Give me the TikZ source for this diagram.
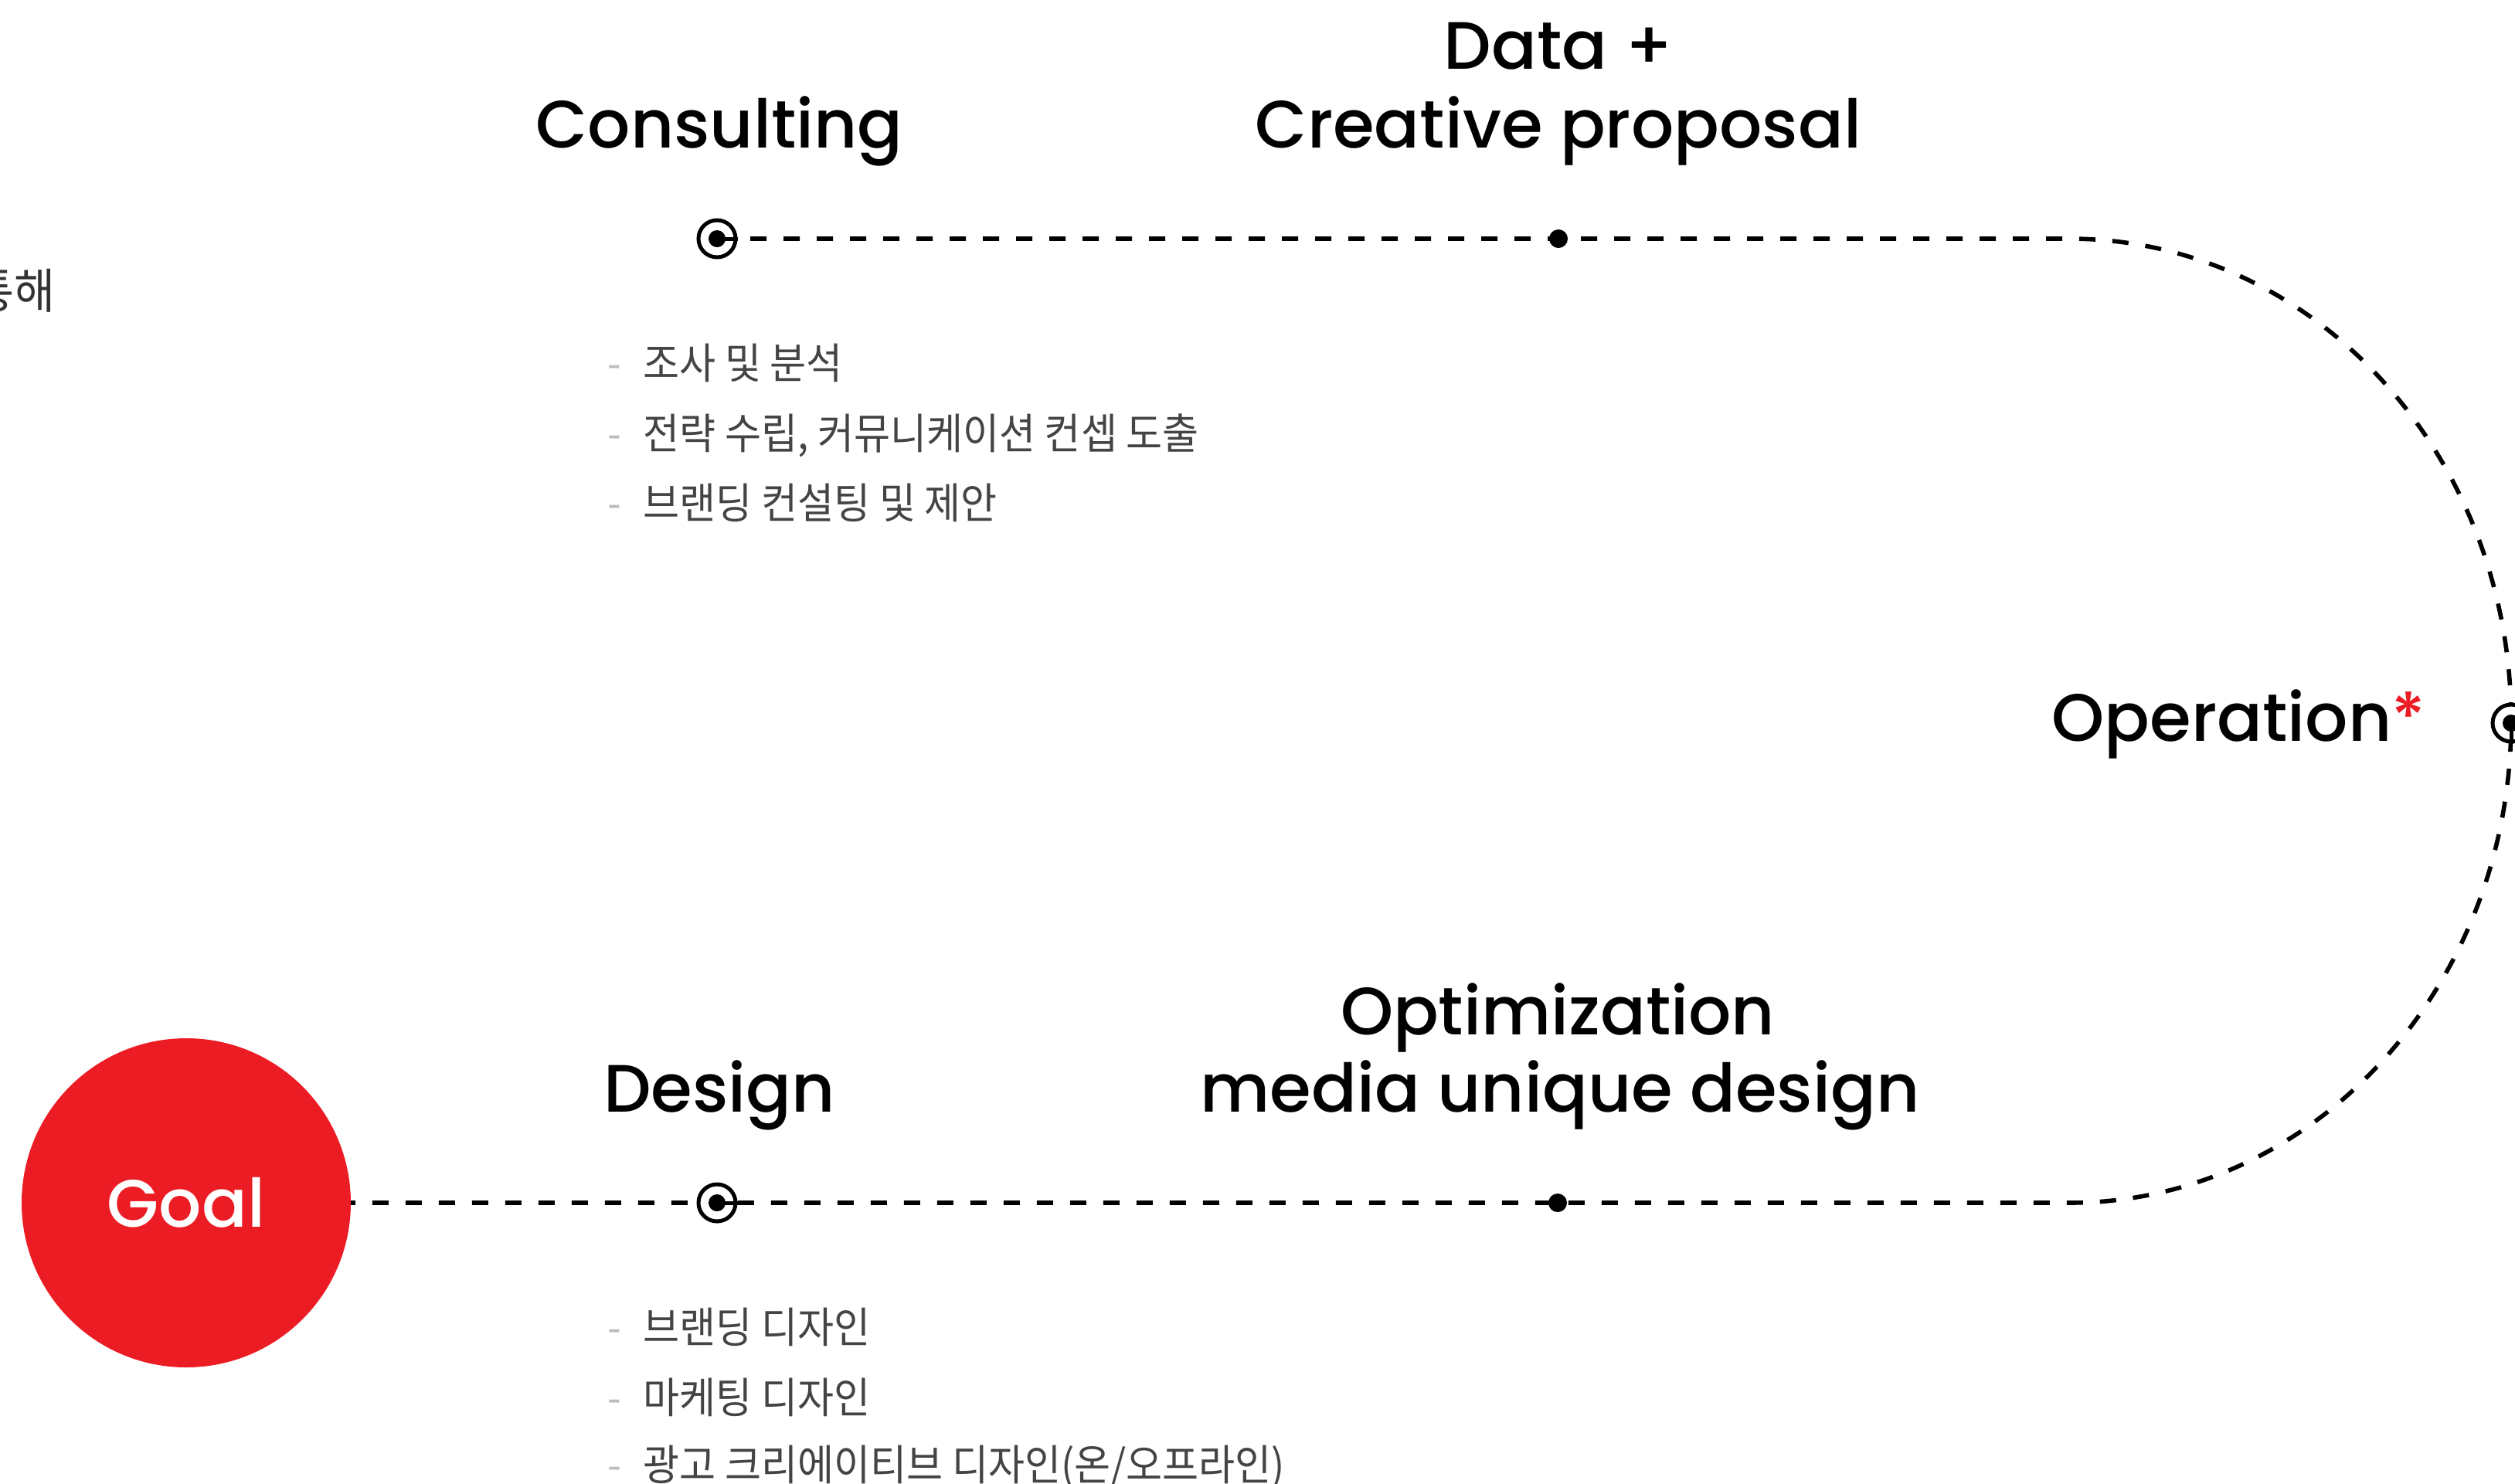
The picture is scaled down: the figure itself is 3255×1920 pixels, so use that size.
\documentclass[tikz,border=0pt]{standalone}
\usepackage{fontspec}
\IfFontExistsTF{Poppins Medium}{\setmainfont{Poppins Medium}}{\setmainfont{Poppins}}
\newfontfamily\krfont[FakeStretch=0.93]{Noto Sans CJK KR}
\usetikzlibrary{backgrounds}
\definecolor{goalred}{HTML}{EC1C24}
\definecolor{krgray}{HTML}{444444}
\definecolor{krdark}{HTML}{333333}
\definecolor{dashgray}{HTML}{BDBDBD}
\newcommand{\bul}{\makebox[11.5pt][l]{\textcolor{dashgray}{-}}}
\begin{document}
\begin{tikzpicture}[x=0.25pt,y=-0.25pt,
  head/.style={font=\fontsize{21.7pt}{25pt}\selectfont, inner sep=0pt, anchor=base},
  item/.style={font=\krfont\fontsize{13.75pt}{16pt}\selectfont, text=krgray, inner sep=0pt, anchor=base west},
  target/.style={circle, draw=black, line width=1.25pt, fill=white, minimum size=12pt, inner sep=0pt},
  middot/.style={circle, fill=black, minimum size=6pt, inner sep=0pt},
  pathline/.style={draw=black, line width=1.4pt, dash pattern=on 5.25pt off 5.5pt}
]
\useasboundingbox (0,0) rectangle (3255,1920);
\clip (0,0) rectangle (3255,1920);

% markers
\node[target] (tc) at (928,309) {};
\node[middot] (dtop) at (2017,309) {};
\node[target] (op) at (3250,936) {};
\node[middot] (dbot) at (2016,1557) {};
\node[target] (td) at (928,1557) {};
\node[circle, fill=goalred, minimum size=106.5pt, inner sep=0pt, text=white,
      font=\fontsize{21.7pt}{25pt}\selectfont] (goal) at (241,1557) {Goal};
\coordinate (ctop) at (2678,309);

% dashed route
\begin{scope}[on background layer]
\draw[pathline] (tc.center) -- (ctop)
  arc[start angle=90, end angle=-90, x radius=143pt, y radius=156pt]
  -- (goal.center);
\end{scope}

% target centres
\fill (tc.center) circle[radius=2.75pt];
\draw[line width=1.25pt] (tc.center) -- (tc.east);
\fill (op.center) circle[radius=2.75pt];
\draw[line width=1.25pt] (op.center) -- (op.south);
\fill (td.center) circle[radius=2.75pt];
\draw[line width=1.25pt] (td.center) -- (td.east);

% headings
\node[head] (consult) at (931,191) {Consulting};
\node[head] (dataA) at (2017,89) {Data +};
\node[head] (dataB) at (2017,191) {Creative proposal};
\node[head, anchor=base west] (oper) at (2655,959) {Operation\textcolor{goalred}{*}};
\node[head] (optA) at (2016,1339) {Optimization};
\node[head] (optB) at (2019,1439) {media unique design};
\node[head] (design) at (931,1439) {Design};

% items
\node[item] (c1) at (786,490) {\bul 조사 및 분석};
\node[item] (c2) at (786,581) {\bul 전략 수립, 커뮤니케이션 컨셉 도출};
\node[item] (c3) at (786,671) {\bul 브랜딩 컨설팅 및 제안};
\node[item] (d1) at (786,1738) {\bul 브랜딩 디자인};
\node[item] (d2) at (786,1829) {\bul 마케팅 디자인};
\node[item] (d3) at (786,1916) {\bul 광고 크리에이티브 디자인(온/오프라인)};

% cut-off text at left edge
\node[font=\krfont\fontsize{15.5pt}{18pt}\selectfont, text=krdark, anchor=base east, inner sep=0pt] (lefttext) at (72,399) {통해};
\end{tikzpicture}
\end{document}
